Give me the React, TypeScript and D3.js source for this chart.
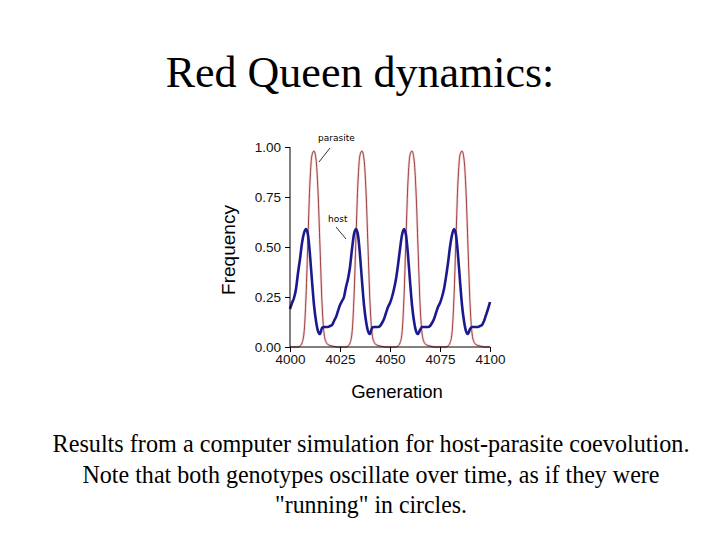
import { useEffect, useRef } from "react";
import * as d3 from "d3";

// generations 4000..4100, one value per generation
const generations = d3.range(4000, 4101);

const hostFreq = [
  0.19, 0.22, 0.245, 0.29, 0.37, 0.44, 0.52, 0.57, 0.59, 0.56,
  0.46, 0.33, 0.21, 0.13, 0.08, 0.065, 0.095, 0.1, 0.1, 0.1,
  0.105, 0.11, 0.13, 0.15, 0.18, 0.21, 0.23, 0.25, 0.3, 0.34,
  0.4, 0.49, 0.565, 0.59, 0.56, 0.46, 0.33, 0.21, 0.13, 0.08,
  0.065, 0.095, 0.1, 0.1, 0.1, 0.105, 0.12, 0.14, 0.17, 0.2,
  0.22, 0.25, 0.29, 0.34, 0.41, 0.49, 0.56, 0.59, 0.56, 0.46,
  0.33, 0.21, 0.13, 0.08, 0.065, 0.085, 0.1, 0.1, 0.1, 0.1,
  0.105, 0.12, 0.14, 0.17, 0.2, 0.22, 0.25, 0.29, 0.35, 0.42,
  0.5, 0.56, 0.59, 0.56, 0.46, 0.33, 0.21, 0.13, 0.08, 0.065,
  0.09, 0.1, 0.1, 0.1, 0.1, 0.105, 0.11, 0.13, 0.16, 0.19,
  0.225,
];

const parasiteFreq = [
  0, 0, 0, 0, 0, 0.005, 0.02, 0.07, 0.25, 0.55,
  0.83, 0.96, 0.98, 0.94, 0.78, 0.5, 0.22, 0.07, 0.025, 0.012,
  0.008, 0.005, 0.003, 0, 0, 0, 0, 0, 0, 0.005,
  0.02, 0.07, 0.25, 0.55, 0.83, 0.96, 0.98, 0.94, 0.78, 0.5,
  0.22, 0.07, 0.025, 0.012, 0.008, 0.005, 0.003, 0, 0, 0,
  0, 0, 0, 0, 0.005, 0.02, 0.07, 0.25, 0.55, 0.83,
  0.96, 0.98, 0.94, 0.78, 0.5, 0.22, 0.07, 0.025, 0.012, 0.008,
  0.005, 0.003, 0, 0, 0, 0, 0, 0, 0, 0.005,
  0.02, 0.07, 0.25, 0.55, 0.83, 0.96, 0.98, 0.94, 0.78, 0.5,
  0.22, 0.07, 0.025, 0.012, 0.008, 0.005, 0.003, 0, 0, 0,
  0,
];

const xTicks = [4000, 4025, 4050, 4075, 4100];
const yTicks = [0, 0.25, 0.5, 0.75, 1];

const title = "Red Queen dynamics:";
const captionLines = [
  "Results from a computer simulation for host-parasite coevolution.",
  "Note that both genotypes oscillate over time, as if they were",
  "\"running\" in circles.",
];

export default function App() {
  const svgRef = useRef<SVGSVGElement | null>(null);

  useEffect(() => {
    const width = 720;
    const height = 540;

    const svg = d3.select(svgRef.current).attr("width", width).attr("height", height);
    svg.selectAll("*").remove(); // clear old chart

    svg.append("rect").attr("width", width).attr("height", height).attr("fill", "#fff");

    const x = d3.scaleLinear().domain([4000, 4100]).range([290, 490]);
    const y = d3.scaleLinear().domain([0, 1]).range([347, 147]);

    // title
    svg
      .append("text")
      .attr("x", 360)
      .attr("y", 87)
      .attr("text-anchor", "middle")
      .attr("font-family", "Liberation Serif, Times New Roman, serif")
      .attr("font-size", 44)
      .attr("fill", "#000")
      .text(title);

    // caption
    const capWidths = [637, 577, 192];
    svg
      .selectAll("text.caption")
      .data(captionLines)
      .join("text")
      .attr("class", "caption")
      .attr("x", 371)
      .attr("y", (_, i) => 452 + i * 30.5)
      .attr("text-anchor", "middle")
      .attr("font-family", "Liberation Serif, Times New Roman, serif")
      .attr("font-size", 25)
      .attr("textLength", (_, i) => capWidths[i])
      .attr("lengthAdjust", "spacingAndGlyphs")
      .attr("fill", "#000")
      .text(d => d);

    const chart = svg.append("g").attr("font-family", "Liberation Sans, Arial, sans-serif");

    // lines
    const pts = (vals: number[]) => generations.map((g, i) => [g, vals[i]] as [number, number]);
    const line = d3
      .line<[number, number]>()
      .x(d => x(d[0]))
      .y(d => y(d[1]))
      .curve(d3.curveMonotoneX);

    chart
      .append("path")
      .attr("d", line(pts(parasiteFreq)))
      .attr("fill", "none")
      .attr("stroke", "#f6d8d8")
      .attr("stroke-width", 2.6);
    chart
      .append("path")
      .attr("d", line(pts(parasiteFreq)))
      .attr("fill", "none")
      .attr("stroke", "#8e2f2f")
      .attr("stroke-width", 0.9);

    chart
      .append("path")
      .attr("d", line(pts(hostFreq)))
      .attr("fill", "none")
      .attr("stroke", "#1a1a8e")
      .attr("stroke-width", 2.6)
      .attr("stroke-linejoin", "round");

    // Y Axis
    const yAxis = chart
      .append("g")
      .attr("transform", `translate(${x(4000)},0)`)
      .call(
        d3
          .axisLeft(y)
          .tickValues(yTicks)
          .tickSize(5)
          .tickPadding(4)
          .tickFormat(d3.format(".2f"))
      );
    // X Axis
    const xAxis = chart
      .append("g")
      .attr("transform", `translate(0,${y(0)})`)
      .call(
        d3
          .axisBottom(x)
          .tickValues(xTicks)
          .tickSize(5)
          .tickPadding(2)
          .tickFormat(d3.format("d"))
      );
    [yAxis, xAxis].forEach(a => {
      a.select(".domain").attr("stroke", "#000");
      a.attr("font-family", "Liberation Sans, Arial, sans-serif").attr("font-size", 13.5);
      a.selectAll("text").attr("fill", "#111");
    });
    // plain axis lines without end caps
    yAxis.select(".domain").attr("d", `M0,${y(1)}V${y(0)}`);
    xAxis.select(".domain").attr("d", `M${x(4000)},0H${x(4100)}`);

    chart
      .append("text")
      .attr("transform", "translate(235,250) rotate(-90)")
      .attr("text-anchor", "middle")
      .attr("font-size", 19)
      .attr("fill", "#000")
      .text("Frequency");

    chart
      .append("text")
      .attr("x", 397)
      .attr("y", 398)
      .attr("text-anchor", "middle")
      .attr("font-size", 18.5)
      .attr("fill", "#000")
      .text("Generation");

    // annotations
    const notes = [
      { label: "parasite", tx: 318, ty: 141, x1: 330, y1: 148, x2: 319, y2: 162 },
      { label: "host", tx: 328, ty: 222, x1: 336, y1: 227, x2: 346, y2: 239 },
    ];
    notes.forEach(n => {
      chart
        .append("text")
        .attr("x", n.tx)
        .attr("y", n.ty)
        .attr("font-family", "DejaVu Sans, sans-serif")
        .attr("font-size", 9)
        .attr("fill", "#000")
        .text(n.label);
      chart
        .append("line")
        .attr("x1", n.x1)
        .attr("y1", n.y1)
        .attr("x2", n.x2)
        .attr("y2", n.y2)
        .attr("stroke", "#000")
        .attr("stroke-width", 0.8);
    });
  }, []);

  return (
    <div style={{ position: "absolute", left: 0, top: 0 }}>
      <svg ref={svgRef} style={{ display: "block" }}></svg>
    </div>
  );
}
